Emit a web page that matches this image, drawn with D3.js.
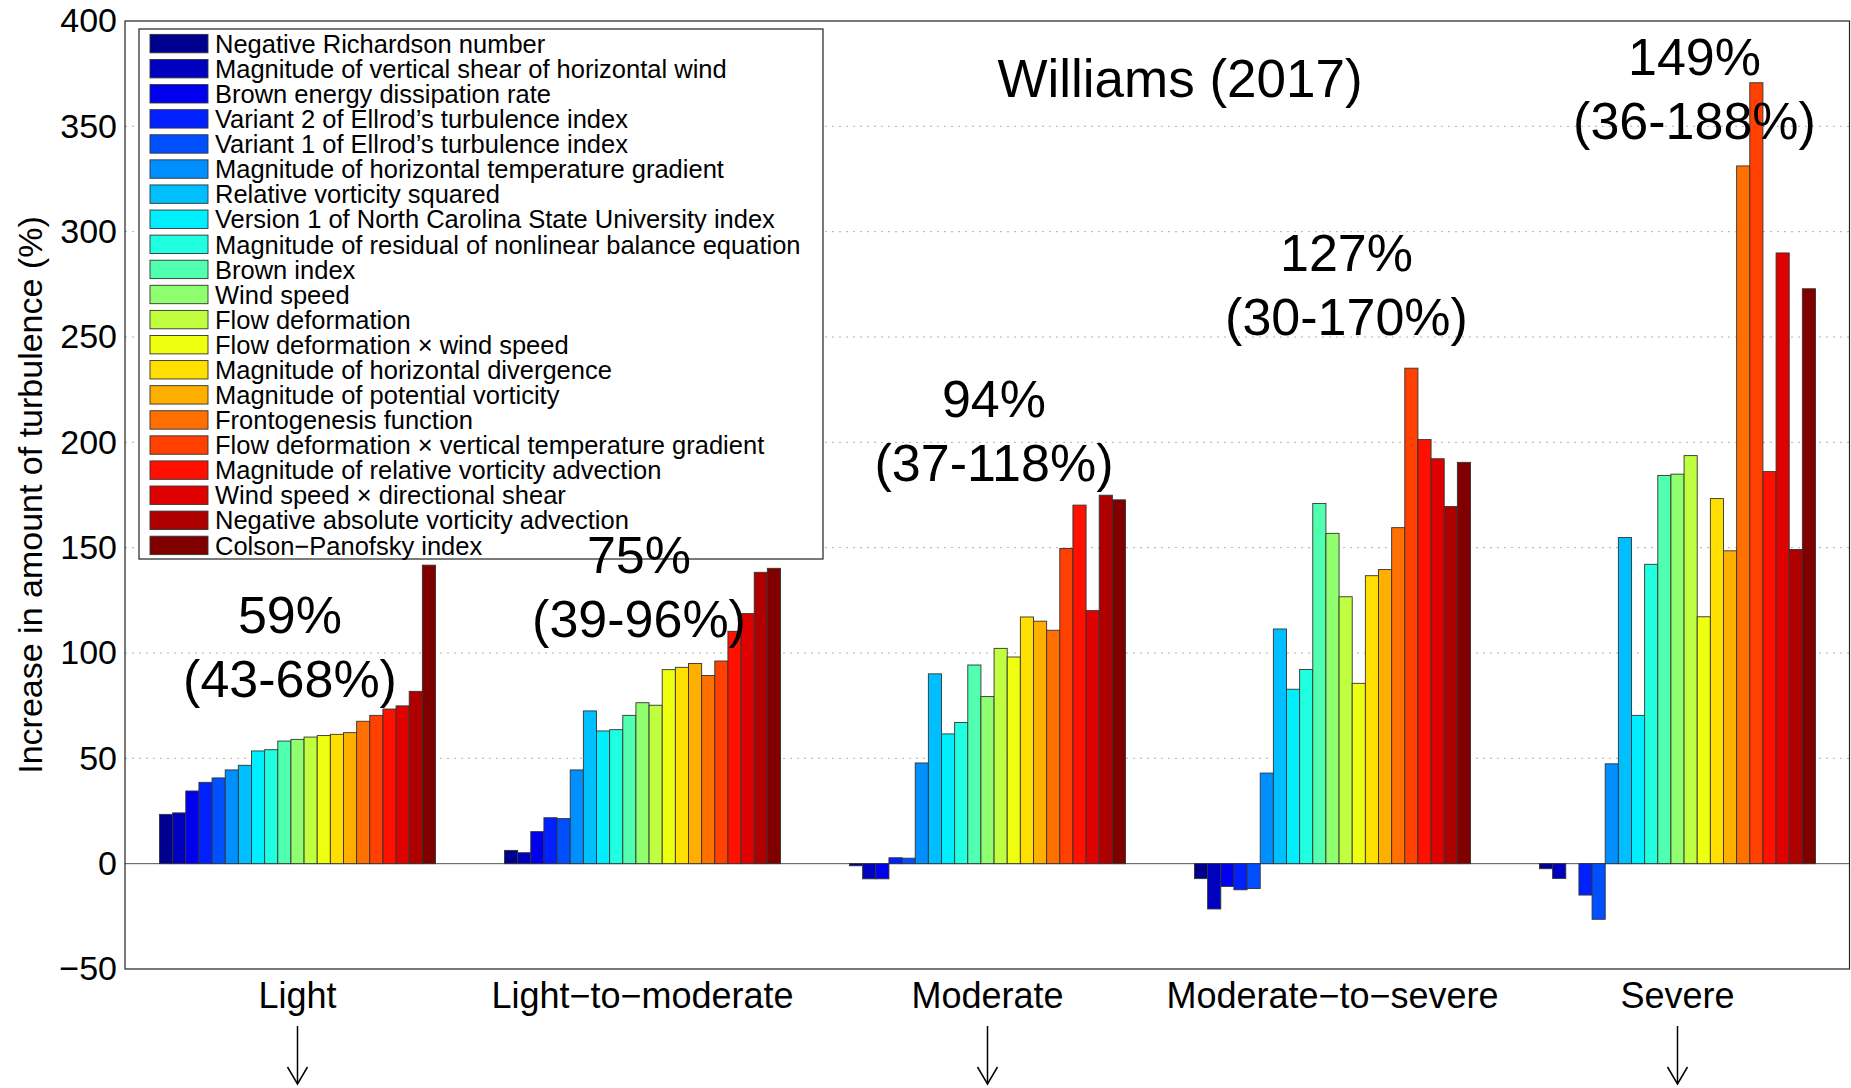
<!DOCTYPE html>
<html>
<head>
<meta charset="utf-8">
<script src="https://cdn.jsdelivr.net/npm/d3@7"></script>
<style>
	body { margin: 0; background: #fff; }
	svg { display: block; font-family: "Liberation Sans", Arial, Helvetica, sans-serif; }
</style>
</head>
<body>
<div id="chart"></div>
<script>
// turbulence categories (x groups)
const categories = ['Light', 'Light\u2212to\u2212moderate', 'Moderate', 'Moderate\u2212to\u2212severe', 'Severe'];

// the 21 turbulence diagnostics (legend order = bar order)
const seriesNames = [
	'Negative Richardson number',
	'Magnitude of vertical shear of horizontal wind',
	'Brown energy dissipation rate',
	'Variant 2 of Ellrod\u2019s turbulence index',
	'Variant 1 of Ellrod\u2019s turbulence index',
	'Magnitude of horizontal temperature gradient',
	'Relative vorticity squared',
	'Version 1 of North Carolina State University index',
	'Magnitude of residual of nonlinear balance equation',
	'Brown index',
	'Wind speed',
	'Flow deformation',
	'Flow deformation \u00d7 wind speed',
	'Magnitude of horizontal divergence',
	'Magnitude of potential vorticity',
	'Frontogenesis function',
	'Flow deformation \u00d7 vertical temperature gradient',
	'Magnitude of relative vorticity advection',
	'Wind speed \u00d7 directional shear',
	'Negative absolute vorticity advection',
	'Colson\u2212Panofsky index'
];

// increase in amount of turbulence (%), one value per diagnostic
const light = [23.4, 24.1, 34.5, 38.6, 40.7, 44.5, 46.7, 53.5, 54.1, 58.2, 59.0, 60.1, 60.8, 61.4, 62.2, 67.6, 70.4, 73.4, 74.9, 81.8, 141.7];
const lightToModerate = [6.3, 5.2, 15.2, 21.8, 21.4, 44.5, 72.5, 63.0, 63.6, 70.4, 76.4, 75.2, 92.1, 93.2, 95.0, 89.3, 96.2, 110.3, 118.7, 138.3, 140.2];
const moderate = [-1.0, -7.2, -7.2, 2.8, 2.6, 47.8, 90.1, 61.6, 67.0, 94.3, 79.3, 102.2, 98.1, 117.1, 115.1, 110.8, 149.6, 170.2, 120.1, 174.9, 172.7];
const moderateToSevere = [-7.1, -21.5, -10.8, -12.4, -11.8, 43.0, 111.4, 82.8, 92.2, 171.0, 156.8, 126.7, 85.6, 136.7, 139.6, 159.5, 235.2, 201.3, 192.2, 169.5, 190.5];
const severe = [-2.4, -7.0, 0, -14.9, -26.4, 47.4, 154.8, 70.4, 142.1, 184.3, 184.9, 193.7, 117.2, 173.3, 148.5, 331.2, 370.7, 186.1, 289.9, 149.1, 272.9];

// per-category summary text
const meanLabels = ['59%', '75%', '94%', '127%', '149%'];
const rangeLabels = ['(43-68%)', '(39-96%)', '(37-118%)', '(30-170%)', '(36-188%)'];

const yTicks = [-50, 0, 50, 100, 150, 200, 250, 300, 350, 400];
const arrowCategories = ['Light', 'Moderate', 'Severe'];

// matlab jet(64) sampled for 21 series
const jetColors = ['#00008f', '#0000bf', '#0000ef', '#0020ff', '#0050ff', '#008fff', '#00bfff', '#00efff', '#20ffdf', '#50ffaf', '#8fff70',
	'#bfff40', '#efff10', '#ffdf00', '#ffaf00', '#ff7000', '#ff4000', '#ff1000', '#df0000', '#af0000', '#800000'];

const groupValues = [light, lightToModerate, moderate, moderateToSevere, severe];

// dimension stuff
const width = 1851;
const height = 1088;
const plotLeft = 125;
const plotRight = 1850;
const plotTop = 21;
const plotBottom = 969;

// annotation placement: x shift from group center (px), first-line baseline (data units)
const annotLayout = [[-7.5, 109.5], [-3.5, 138], [6.5, 212], [14, 281.3], [17, 374.4]];

// scales
const scaleX = d3.scaleBand()
	.domain(categories)
	.range([plotLeft, plotRight])
	.paddingInner(0.2)
	.paddingOuter(0.1);

const scaleSeries = d3.scaleBand()
	.domain(d3.range(seriesNames.length))
	.range([0, scaleX.bandwidth()]);

const scaleY = d3.scaleLinear()
	.domain([-50, 400])
	.range([plotBottom, plotTop]);

const $svg = d3.select('#chart').append('svg')
	.attr('width', width)
	.attr('height', height);

// grid lines
$svg.append('g').attr('class', 'g-grid')
	.selectAll('line')
	.data(yTicks.filter(d => d > 0 && d < 400))
	.join('line')
	.attr('x1', plotLeft)
	.attr('x2', plotRight)
	.attr('y1', d => scaleY(d))
	.attr('y2', d => scaleY(d))
	.attr('stroke', '#b0b0b0')
	.attr('stroke-width', 1)
	.attr('stroke-dasharray', '2,5');

// zero baseline
$svg.append('line')
	.attr('x1', plotLeft)
	.attr('x2', plotRight)
	.attr('y1', scaleY(0))
	.attr('y2', scaleY(0))
	.attr('stroke', '#555')
	.attr('stroke-width', 1);

// bars
const $groups = $svg.append('g').attr('class', 'g-vis')
	.selectAll('g')
	.data(categories)
	.join('g')
	.attr('transform', d => `translate(${scaleX(d)},0)`);

$groups.selectAll('rect')
	.data((d, i) => groupValues[i])
	.join('rect')
	.attr('x', (d, i) => scaleSeries(i))
	.attr('width', scaleSeries.bandwidth())
	.attr('y', d => scaleY(Math.max(0, d)))
	.attr('height', d => Math.abs(scaleY(d) - scaleY(0)))
	.attr('fill', (d, i) => jetColors[i])
	.attr('stroke', '#333')
	.attr('stroke-width', 0.9);

// frame
$svg.append('rect')
	.attr('x', plotLeft)
	.attr('y', plotTop)
	.attr('width', plotRight - plotLeft - 0.5)
	.attr('height', plotBottom - plotTop)
	.attr('fill', 'none')
	.attr('stroke', '#222')
	.attr('stroke-width', 1.2);

// y axis
const $yAxis = $svg.append('g')
	.attr('transform', `translate(${plotLeft},0)`)
	.call(d3.axisLeft(scaleY).tickValues(yTicks).tickSize(0).tickPadding(8));
$yAxis.select('.domain').remove();
$yAxis.selectAll('text')
	.attr('font-size', 34)
	.attr('font-family', null)
	.attr('fill', '#000');

// x axis
const $xAxis = $svg.append('g')
	.attr('transform', `translate(0,${plotBottom})`)
	.call(d3.axisBottom(scaleX).tickSize(0).tickPadding(13));
$xAxis.select('.domain').remove();
$xAxis.selectAll('text')
	.attr('font-size', 36)
	.attr('font-family', null)
	.attr('fill', '#000');

// y label
$svg.append('text')
	.attr('transform', `translate(30,${(plotTop + plotBottom) / 2}) rotate(-90)`)
	.attr('text-anchor', 'middle')
	.attr('dy', '0.35em')
	.attr('font-size', 34)
	.text('Increase in amount of turbulence (%)');

// arrows under some categories
const $arrows = $svg.append('g').attr('class', 'g-arrows')
	.selectAll('g')
	.data(arrowCategories)
	.join('g')
	.attr('transform', d => `translate(${scaleX(d) + scaleX.bandwidth() / 2},0)`)
	.attr('stroke', '#000')
	.attr('stroke-width', 1.5)
	.attr('fill', 'none');
$arrows.append('line').attr('x1', 0).attr('x2', 0).attr('y1', 1026).attr('y2', 1084);
$arrows.append('path').attr('d', 'M-10,1067L0,1084L10,1067');

// title
$svg.append('text')
	.attr('x', 1180)
	.attr('y', 97)
	.attr('text-anchor', 'middle')
	.attr('font-size', 53)
	.text('Williams (2017)');

// legend
const legendX = 139;
const legendY = 29;
const rowH = 25.09;
const $legend = $svg.append('g').attr('class', 'g-legend');
$legend.append('rect')
	.attr('x', legendX)
	.attr('y', legendY)
	.attr('width', 684)
	.attr('height', 530)
	.attr('fill', '#fff')
	.attr('stroke', '#222')
	.attr('stroke-width', 1.2);

const $items = $legend.selectAll('.legend-item')
	.data(seriesNames)
	.join('g')
	.attr('class', 'legend-item')
	.attr('transform', (d, i) => `translate(${legendX + 11},${43.6 + i * rowH})`);
$items.append('rect')
	.attr('x', 0)
	.attr('y', -9.2)
	.attr('width', 58)
	.attr('height', 18.4)
	.attr('fill', (d, i) => jetColors[i])
	.attr('stroke', '#333')
	.attr('stroke-width', 0.9);
$items.append('text')
	.attr('x', 65)
	.attr('dy', '0.36em')
	.attr('font-size', 25.5)
	.text(d => d);

// annotations (drawn last, on top of the legend like the original)
const $annot = $svg.append('g').attr('class', 'g-annot')
	.selectAll('text')
	.data(categories)
	.join('text')
	.attr('text-anchor', 'middle')
	.attr('font-size', 52)
	.attr('x', (d, i) => scaleX(d) + scaleX.bandwidth() / 2 + annotLayout[i][0])
	.attr('y', (d, i) => scaleY(annotLayout[i][1]));
$annot.append('tspan').text((d, i) => meanLabels[i]);
$annot.append('tspan')
	.attr('x', (d, i) => scaleX(d) + scaleX.bandwidth() / 2 + annotLayout[i][0])
	.attr('dy', 64)
	.text((d, i) => rangeLabels[i]);
</script>
</body>
</html>
